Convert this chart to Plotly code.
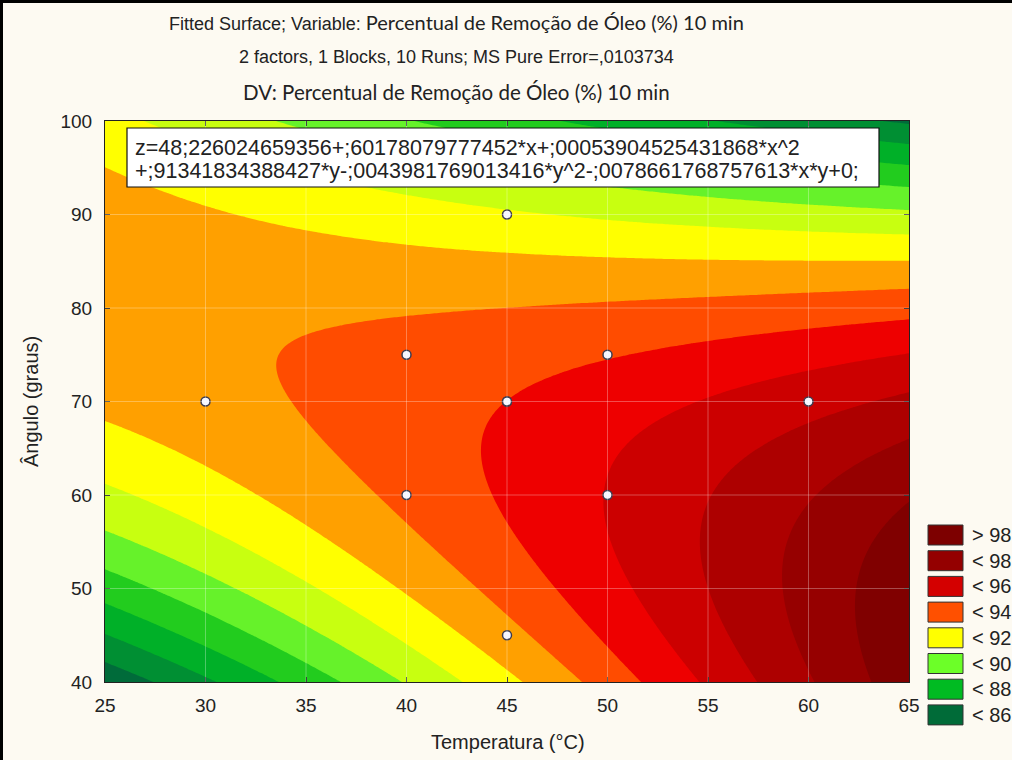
import numpy as np
import plotly.graph_objects as go

# ---------------- data ----------------
# fitted surface coefficients (as printed on the chart)
coef_const = 48.226024659356
coef_x = 0.60178079777452
coef_x2 = 0.00053904525431868
coef_y = 0.91341834388427
coef_y2 = -0.0043981769013416
coef_xy = -0.0078661768757613

# experimental runs (Temperatura, Ângulo)
run_temp = [30, 40, 40, 45, 45, 45, 45, 50, 50, 60]
run_angle = [70, 75, 60, 90, 70, 70, 45, 75, 60, 70]

x_ticks = [25, 30, 35, 40, 45, 50, 55, 60, 65]
y_ticks = [40, 50, 60, 70, 80, 90, 100]

level_start, level_end, level_step = 86, 98, 1
band_colors = ['#006b3a', '#008f33', '#00b028', '#22cc1e', '#66f22a', '#c8ff10',
               '#ffff00', '#ffa000', '#ff4c00', '#ee0000', '#cc0000', '#ad0000',
               '#960000', '#800000']

legend_labels = ['> 98', '< 98', '< 96', '< 94', '< 92', '< 90', '< 88', '< 86']
legend_colors = ['#7d0000', '#940000', '#d40000', '#ff5000', '#ffff00', '#6cff28', '#00bb22', '#006b38']

title_lines = [
    'Fitted Surface; Variable: <span style="font-family:Lato;font-size:20px">Percentual de Remoção de Óleo (%) 10 min</span>',
    '2 factors, 1 Blocks, 10 Runs; MS Pure Error=,0103734',
    '<span style="font-family:Lato;font-size:20.5px">DV: Percentual de Remoção de Óleo (%) 10 min</span>',
]
eq_lines = [
    'z=48;226024659356+;60178079777452*x+;00053904525431868*x^2',
    '+;91341834388427*y-;0043981769013416*y^2-;0078661768757613*x*y+0;',
]
x_title = 'Temperatura (°C)'
y_title = 'Ângulo (graus)'

# ---------------- surface ----------------
xs = np.linspace(25, 65, 201)
ys = np.linspace(40, 100, 301)
X, Y = np.meshgrid(xs, ys)
Z = (coef_const + coef_x * X + coef_x2 * X ** 2 + coef_y * Y + coef_y2 * Y ** 2
     + coef_xy * X * Y)

n = len(band_colors) - 1
cscale = []
for i, c in enumerate(band_colors):
    lo = max(0.0, (i - 0.5) / n + (1e-6 if i > 0 else 0))
    hi = min(1.0, (i + 0.5) / n)
    cscale.append([lo, c])
    cscale.append([hi, c])

# ---------------- layout geometry ----------------
W, H = 1012, 760
PL, PR, PT, PB = 105, 909, 121, 682
pw, ph = PR - PL, PB - PT


def px(v):
    return (v - PL) / pw


def py(v):
    return (PB - v) / ph


fig = go.Figure()
fig.add_trace(go.Contour(
    x=xs, y=ys, z=Z,
    autocontour=False,
    contours=dict(start=level_start, end=level_end, size=level_step,
                  coloring='fill', showlines=False),
    line=dict(width=0),
    colorscale=cscale, showscale=False, hoverinfo='skip'))

fig.add_trace(go.Scatter(
    x=run_temp, y=run_angle, mode='markers',
    marker=dict(size=9, color='#f6f6ff', line=dict(color='#3c3c50', width=1.5)),
    showlegend=False))

shapes = []
for xv in x_ticks[1:-1]:
    shapes.append(dict(type='line', xref='x', yref='paper', x0=xv, x1=xv, y0=0, y1=1,
                       line=dict(color='rgba(255,255,255,0.3)', width=1), layer='above'))
for yv in y_ticks[1:-1]:
    shapes.append(dict(type='line', xref='paper', yref='y', x0=0, x1=1, y0=yv, y1=yv,
                       line=dict(color='rgba(255,255,255,0.3)', width=1), layer='above'))

# equation box
shapes.append(dict(type='rect', xref='paper', yref='paper',
                   x0=px(127), x1=px(879), y0=py(187), y1=py(128),
                   fillcolor='white', line=dict(color='#111', width=1.2), layer='above'))

# legend swatches
for i, c in enumerate(legend_colors):
    top = 525 + i * 25.7
    shapes.append(dict(type='rect', xref='paper', yref='paper',
                       x0=px(928), x1=px(963), y0=py(top + 20), y1=py(top),
                       fillcolor=c, line=dict(color='#333', width=1), layer='above'))

# frame edges (top, left)
shapes.append(dict(type='rect', xref='paper', yref='paper', x0=px(0), x1=px(3),
                   y0=py(760), y1=py(0), fillcolor='black', line=dict(width=0)))
shapes.append(dict(type='rect', xref='paper', yref='paper', x0=px(0), x1=px(1012),
                   y0=py(3), y1=py(0), fillcolor='black', line=dict(width=0)))

annotations = []
title_y = [22, 57, 92]
for t, yy in zip(title_lines, title_y):
    annotations.append(dict(text=t, xref='paper', yref='paper', x=px(456), y=py(yy),
                            xanchor='center', yanchor='middle', showarrow=False,
                            font=dict(family='Liberation Sans, Arial', size=18, color='#222')))
for t, yy in zip(eq_lines, [148, 171]):
    annotations.append(dict(text=t, xref='paper', yref='paper', x=px(133), y=py(yy),
                            xanchor='left', yanchor='middle', showarrow=False,
                            font=dict(family='Liberation Sans, Arial', size=21.5, color='#222')))
for i, t in enumerate(legend_labels):
    cy = 525 + i * 25.7 + 10
    annotations.append(dict(text=t, xref='paper', yref='paper', x=px(970), y=py(cy),
                            xanchor='left', yanchor='middle', showarrow=False,
                            font=dict(family='Liberation Sans, Arial', size=20, color='#222')))
annotations.append(dict(text=x_title, xref='paper', yref='paper', x=px(508), y=py(742),
                        xanchor='center', yanchor='middle', showarrow=False,
                        font=dict(family='Liberation Sans, Arial', size=20, color='#222')))
annotations.append(dict(text=y_title, xref='paper', yref='paper', x=px(31), y=py(402),
                        xanchor='center', yanchor='middle', showarrow=False, textangle=-90,
                        font=dict(family='Liberation Sans, Arial', size=20, color='#222')))

axis_common = dict(ticks='inside', ticklen=5, tickcolor='#222', showline=True,
                   linecolor='#222', linewidth=1, mirror='ticks', showgrid=False,
                   zeroline=False, tickfont=dict(family='Liberation Sans, Arial', size=19,
                                                 color='#222'))
fig.update_layout(
    width=W, height=H,
    margin=dict(l=PL, r=W - PR, t=PT, b=H - PB, pad=0),
    paper_bgcolor='#fdfaf2', plot_bgcolor='#fdfaf2',
    xaxis=dict(range=[25, 65], tickvals=x_ticks, ticklabelstandoff=6, **axis_common),
    yaxis=dict(range=[40, 100], tickvals=y_ticks, ticklabelstandoff=8, **axis_common),
    shapes=shapes, annotations=annotations, showlegend=False,
)

fig.write_html('out.html')
